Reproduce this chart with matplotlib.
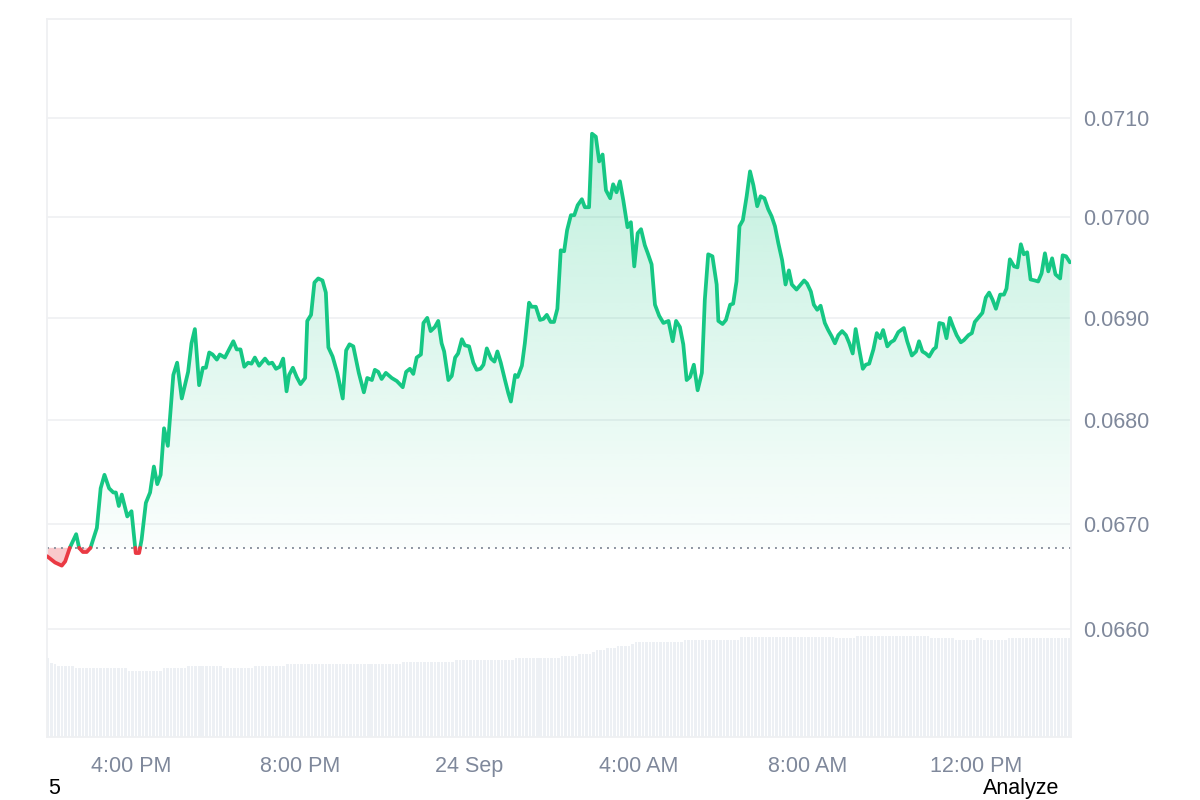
import numpy as np
import matplotlib
matplotlib.use("Agg")
import matplotlib.pyplot as plt
from matplotlib.path import Path
from matplotlib.ticker import FixedLocator, FixedFormatter, NullLocator, NullFormatter

plt.rcParams['font.family'] = ['Liberation Sans', 'DejaVu Sans']

# ---------------- data ----------------
# time in hours since 2:00 PM (23 Sep)
hours = [0, 0.19, 0.35, 0.43, 0.54, 0.69, 0.76, 0.85, 0.94, 1.03,
         1.18, 1.27, 1.36, 1.47, 1.57, 1.63, 1.70, 1.77, 1.90, 2.00,
         2.10, 2.18, 2.24, 2.34, 2.44, 2.53, 2.61, 2.69, 2.77, 2.86,
         2.99, 3.08, 3.19, 3.34, 3.42, 3.50, 3.60, 3.69, 3.76, 3.84,
         3.92, 4.02, 4.09, 4.21, 4.31, 4.41, 4.49, 4.58, 4.67, 4.76,
         4.84, 4.92, 5.02, 5.16, 5.25, 5.33, 5.42, 5.51, 5.59, 5.67,
         5.73, 5.82, 5.91, 6.00, 6.11, 6.16, 6.25, 6.33, 6.42, 6.52,
         6.60, 6.66, 6.76, 6.87, 7.00, 7.08, 7.16, 7.25, 7.38, 7.50,
         7.58, 7.69, 7.76, 7.84, 7.92, 8.02, 8.16, 8.28, 8.42, 8.50,
         8.59, 8.67, 8.75, 8.85, 8.91, 9.00, 9.08, 9.18, 9.26, 9.34,
         9.40, 9.50, 9.58, 9.66, 9.73, 9.82, 9.89, 9.99, 10.09, 10.17,
         10.26, 10.33, 10.41, 10.51, 10.59, 10.66, 10.74, 10.84, 10.92, 10.98,
         11.08, 11.14, 11.24, 11.31, 11.41, 11.47, 11.57, 11.67, 11.75, 11.83,
         11.92, 12.00, 12.08, 12.16, 12.24, 12.31, 12.40, 12.48, 12.56, 12.66,
         12.73, 12.83, 12.90, 12.99, 13.07, 13.15, 13.23, 13.33, 13.40, 13.48,
         13.56, 13.64, 13.74, 13.82, 13.90, 13.98, 14.06, 14.15, 14.22, 14.31,
         14.39, 14.49, 14.59, 14.71, 14.81, 14.89, 14.98, 15.06, 15.14, 15.22,
         15.31, 15.40, 15.50, 15.57, 15.65, 15.75, 15.85, 15.89, 15.99, 16.07,
         16.17, 16.24, 16.32, 16.39, 16.47, 16.56, 16.64, 16.72, 16.81, 16.89,
         16.98, 17.07, 17.15, 17.23, 17.31, 17.40, 17.48, 17.56, 17.63, 17.74,
         17.84, 17.92, 17.99, 18.08, 18.15, 18.23, 18.31, 18.41, 18.49, 18.57,
         18.65, 18.73, 18.82, 18.91, 18.99, 19.07, 19.14, 19.22, 19.31, 19.38,
         19.46, 19.56, 19.64, 19.72, 19.79, 19.89, 19.97, 20.05, 20.15, 20.28,
         20.36, 20.47, 20.57, 20.64, 20.72, 20.80, 20.88, 20.98, 21.04, 21.12,
         21.21, 21.29, 21.37, 21.45, 21.53, 21.63, 21.70, 21.81, 21.89, 21.96,
         22.06, 22.14, 22.22, 22.30, 22.38, 22.46, 22.56, 22.65, 22.71, 22.79,
         22.89, 22.97, 23.05, 23.12, 23.20, 23.28, 23.38, 23.46, 23.54, 23.62,
         23.70, 23.79, 23.87, 23.98, 24.04, 24.12, 24.21]

prices = [0.06669, 0.06663, 0.06660, 0.06664, 0.06677, 0.06690, 0.06677, 0.06673, 0.06673, 0.06677,
          0.06696, 0.06734, 0.06747, 0.06734, 0.06730, 0.06730, 0.06717, 0.06728, 0.06707, 0.06712,
          0.06672, 0.06672, 0.06685, 0.06720, 0.06730, 0.06755, 0.06738, 0.06747, 0.06792, 0.06775,
          0.06844, 0.06856, 0.06821, 0.06847, 0.06875, 0.06889, 0.06834, 0.06851, 0.06851, 0.06866,
          0.06864, 0.06859, 0.06864, 0.06861, 0.06869, 0.06877, 0.06869, 0.06869, 0.06852, 0.06856,
          0.06855, 0.06861, 0.06853, 0.06860, 0.06855, 0.06856, 0.06850, 0.06852, 0.06860, 0.06828,
          0.06844, 0.06851, 0.06842, 0.06835, 0.06841, 0.06897, 0.06903, 0.06935, 0.06939, 0.06937,
          0.06925, 0.06871, 0.06862, 0.06846, 0.06821, 0.06868, 0.06874, 0.06872, 0.06846, 0.06827,
          0.06841, 0.06839, 0.06849, 0.06847, 0.06840, 0.06846, 0.06841, 0.06838, 0.06832, 0.06847,
          0.06850, 0.06845, 0.06861, 0.06864, 0.06895, 0.06900, 0.06887, 0.06891, 0.06897, 0.06875,
          0.06867, 0.06839, 0.06843, 0.06861, 0.06865, 0.06879, 0.06873, 0.06872, 0.06856, 0.06849,
          0.06850, 0.06854, 0.06870, 0.06860, 0.06857, 0.06867, 0.06856, 0.06839, 0.06826, 0.06818,
          0.06844, 0.06842, 0.06853, 0.06875, 0.06915, 0.06911, 0.06911, 0.06898, 0.06899, 0.06903,
          0.06896, 0.06896, 0.06909, 0.06967, 0.06966, 0.06987, 0.07002, 0.07002, 0.07012, 0.07018,
          0.07010, 0.07010, 0.07084, 0.07081, 0.07056, 0.07063, 0.07027, 0.07019, 0.07033, 0.07025,
          0.07036, 0.07017, 0.06990, 0.06995, 0.06951, 0.06984, 0.06988, 0.06972, 0.06964, 0.06953,
          0.06913, 0.06902, 0.06895, 0.06897, 0.06877, 0.06897, 0.06891, 0.06874, 0.06839, 0.06842,
          0.06854, 0.06829, 0.06846, 0.06918, 0.06963, 0.06961, 0.06933, 0.06897, 0.06894, 0.06898,
          0.06913, 0.06914, 0.06936, 0.06991, 0.06997, 0.07021, 0.07046, 0.07032, 0.07011, 0.07021,
          0.07019, 0.07008, 0.07001, 0.06991, 0.06974, 0.06957, 0.06933, 0.06947, 0.06933, 0.06928,
          0.06933, 0.06937, 0.06934, 0.06926, 0.06913, 0.06908, 0.06912, 0.06895, 0.06888, 0.06882,
          0.06875, 0.06883, 0.06887, 0.06883, 0.06875, 0.06865, 0.06889, 0.06870, 0.06850, 0.06854,
          0.06855, 0.06869, 0.06885, 0.06880, 0.06888, 0.06872, 0.06876, 0.06878, 0.06886, 0.06890,
          0.06877, 0.06863, 0.06867, 0.06877, 0.06867, 0.06865, 0.06862, 0.06869, 0.06871, 0.06895,
          0.06894, 0.06880, 0.06900, 0.06891, 0.06883, 0.06876, 0.06878, 0.06883, 0.06885, 0.06896,
          0.06901, 0.06905, 0.06920, 0.06925, 0.06918, 0.06909, 0.06923, 0.06923, 0.06929, 0.06958,
          0.06951, 0.06950, 0.06973, 0.06963, 0.06965, 0.06938, 0.06937, 0.06936, 0.06944, 0.06964,
          0.06946, 0.06959, 0.06943, 0.06939, 0.06962, 0.06961, 0.06955]

baseline_price = 0.06677

# volume (relative units), run-length: level, number of 5-min bars
vol_levels = [79, 74, 73, 71, 69, 66, 69, 71, 69, 71, 73, 75, 77, 79, 81, 83,
              85, 87, 89, 91, 93, 95, 97, 100, 99, 101, 99, 97, 99, 97, 99]
vol_counts = [1, 1, 1, 5, 15, 10, 7, 10, 9, 9, 33, 15, 17, 13, 5, 4,
              1, 3, 3, 4, 1, 14, 16, 27, 6, 21, 7, 6, 2, 7, 18]

x_tick_hours = [2, 6, 10, 14, 18, 22]
x_tick_labels = ["4:00 PM", "8:00 PM", "24 Sep", "4:00 AM", "8:00 AM", "12:00 PM"]
y_ticks = [0.0660, 0.0670, 0.0680, 0.0690, 0.0700, 0.0710]
y_tick_labels = ["0.0660", "0.0670", "0.0680", "0.0690", "0.0700", "0.0710"]

# ---------------- style ----------------
GREEN = "#16c784"
RED = "#ea3943"
LABEL = "#7f889b"
GRID = "#eff0f2"
XMAX = 24.237
YLIM = (0.064989, 0.072011)

assert len(hours) == len(prices)

h = np.array(hours)
v = np.array(prices)
base = baseline_price

# insert baseline crossings
hs, vs = [h[0]], [v[0]]
for i in range(1, len(h)):
    if (v[i - 1] - base) * (v[i] - base) < 0:
        t = (base - v[i - 1]) / (v[i] - v[i - 1])
        hs.append(h[i - 1] + t * (h[i] - h[i - 1]))
        vs.append(base)
    hs.append(h[i])
    vs.append(v[i])
hs = np.array(hs)
vs = np.array(vs)

fig = plt.figure(figsize=(12, 8), dpi=100)
rect = [47 / 1200, 63 / 800, 1024 / 1200, 718 / 800]

# volume axes (behind)
vax = fig.add_axes(rect)
vol_vals = np.repeat(vol_levels, vol_counts)
vol_t = np.arange(len(vol_vals)) * 5 / 60 + 0.02
vax.bar(vol_t, vol_vals, width=0.72 * 5 / 60, color="#edf0f4", linewidth=0)
vax.set_xlim(0, XMAX)
vax.set_ylim(0, 718)
vax.axis("off")

ax = fig.add_axes(rect)
ax.patch.set_alpha(0)
ax.set_yscale("log")

for yt in y_ticks:
    ax.axhline(yt, color=GRID, lw=1.2, zorder=0.5)

# green gradient fill above baseline
up_poly = ax.fill_between(hs, vs, base, where=vs >= base, interpolate=True,
                          color="none", linewidth=0)
grad = np.zeros((256, 1, 4))
rgb = matplotlib.colors.to_rgb(GREEN)
grad[..., 0], grad[..., 1], grad[..., 2] = rgb
a_top, a_bot = 0.34, 0.02
grad[:, 0, 3] = np.linspace(a_top, a_bot, 256)
im = ax.imshow(grad, extent=(0, XMAX, base, YLIM[1]), aspect="auto",
               origin="upper", zorder=1, interpolation="bilinear")
paths = up_poly.get_paths()
clip = Path.make_compound_path(*paths)
im.set_clip_path(clip, ax.transData)

# red fill below baseline
ax.fill_between(hs, vs, base, where=vs <= base, interpolate=True,
                color=RED, alpha=0.27, linewidth=0, zorder=1.2)

# baseline dotted
ax.axhline(base, color="#8d94a0", lw=1.4, linestyle=(0, (1, 2.6)), zorder=1.5)

# lines
up = np.ma.masked_where(vs < base, vs)
dn = np.ma.masked_where(vs > base, vs)
ax.plot(hs, up, color=GREEN, lw=2.7, solid_joinstyle="round", solid_capstyle="round", zorder=3)
ax.plot(hs, dn, color=RED, lw=2.7, solid_joinstyle="round", solid_capstyle="round", zorder=3)

ax.set_xlim(0, XMAX)
ax.set_ylim(*YLIM)

ax.yaxis.tick_right()
ax.yaxis.set_major_locator(FixedLocator(y_ticks))
ax.yaxis.set_major_formatter(FixedFormatter(y_tick_labels))
ax.yaxis.set_minor_locator(NullLocator())
ax.yaxis.set_minor_formatter(NullFormatter())
ax.set_xticks(x_tick_hours)
ax.set_xticklabels(x_tick_labels)
ax.tick_params(axis="x", length=0, pad=13.5, labelsize=15.5, labelcolor=LABEL)
ax.tick_params(axis="y", length=0, pad=8.6, labelsize=15.5, labelcolor=LABEL)

for s in ax.spines.values():
    s.set_color(GRID)
    s.set_linewidth(1.3)

fig.text(48 / 1200, 1 - 794 / 800, "5", fontsize=15.5, color="black", va="baseline", ha="left")
fig.text(982.7 / 1200, 1 - 794 / 800, "Analyze", fontsize=15.5, color="black", va="baseline", ha="left")

fig.savefig("out.png", dpi=100)
